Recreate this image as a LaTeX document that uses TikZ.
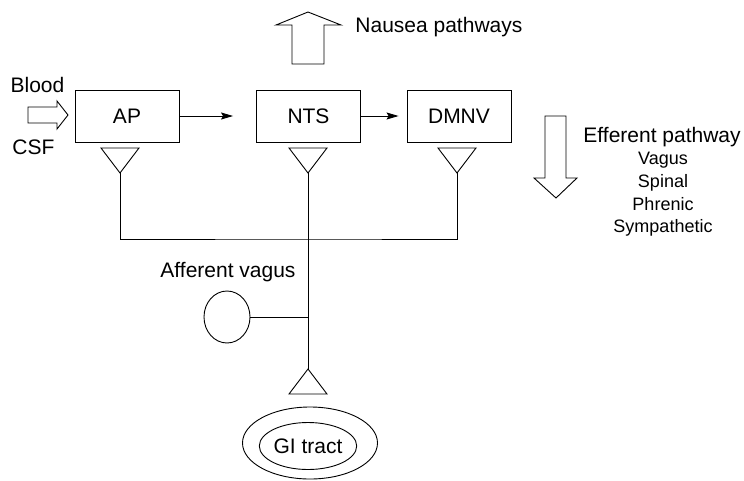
\documentclass[tikz,border=0pt]{standalone}
\usepackage{fontspec}
\setmainfont{Liberation Sans}
\usetikzlibrary{shapes.geometric,arrows.meta}

\begin{document}
\begin{tikzpicture}[
    x=1pt, y=-1pt,
    line width=0.9pt,
    txt/.style={font=\fontsize{21}{24}\selectfont, inner sep=0pt},
    small/.style={font=\fontsize{18}{21}\selectfont, inner sep=0pt},
    nucleus/.style={
        draw,
        minimum width=104pt,  % all three boxes share one size
        minimum height=52pt,
        inner sep=0pt
    },
    link/.style={-{Stealth[length=12pt,width=7pt,inset=2pt]}}
]
\useasboundingbox (0,0) rectangle (744,480);

% nuclei in the brainstem
\node[nucleus, txt] (ap)   at (127,116)   {AP};
\node[nucleus, txt] (nts)  at (308.5,116) {NTS};
\node[nucleus, txt] (dmnv) at (459,116)   {DMNV};

\draw[link, shorten >=23pt] (ap) -- (nts);
\draw[link, shorten >=8pt] (nts) -- (dmnv);

% inputs on the left
\node[txt, anchor=base] (blood) at (37.5,92) {Blood};
\node[txt, anchor=base] (csf)   at (33.5,154) {CSF};
\draw[fill=white] (28,107) -- (57,107) -- (57,101) -- (68,115) -- (57,129) -- (57,123) -- (28,123) -- cycle;

% output upwards
\draw[fill=white] (292,64) -- (292,25) -- (276,25) -- (308,12) -- (341,25) -- (324,25) -- (324,64) -- cycle;
\node[txt, anchor=base west] (nausea) at (355,32) {Nausea pathways};

% output downwards
\draw[fill=white] (545,116) -- (566,116) -- (566,178) -- (577,178) -- (556,198) -- (534,178) -- (545,178) -- cycle;
\node[txt, anchor=base west] (efferent) at (583,142) {Efferent pathway};
\foreach \t [count=\i] in {Vagus,Spinal,Phrenic,Sympathetic}
    \node[small, anchor=base] (eff-\i) at (663,142+22.7*\i) {\t};

% receptor triangles under each nucleus
\foreach \x/\n in {120/ap,308/nts,457/dmnv} {
    \draw (\x-19,148) -- (\x+19,148) -- (\x,173) -- cycle;
    \coordinate (\n-in) at (\x,173);
}

% common afferent line
\coordinate (hub) at (308,239);
\draw (ap-in) |- (hub) -| (dmnv-in);

\node[draw, ellipse, minimum width=46pt, minimum height=52pt, inner sep=0pt] (ganglion) at (227,317) {};
\node[txt, anchor=base] (afferent) at (228,277) {Afferent vagus};

% triangle sitting on the gut
\draw (289,394) -- (327,394) -- (308,369) -- cycle;
\coordinate (gi-in) at (308,369);
\draw (nts-in) -- (gi-in);
\draw (ganglion) -- (ganglion -| hub);

\node[draw, ellipse, minimum width=135pt, minimum height=72pt, inner sep=0pt] (wall) at (310,443) {};
\node[draw, ellipse, minimum width=91pt, minimum height=47pt, txt] (gi) at (308,446) {GI tract};
\end{tikzpicture}
\end{document}
